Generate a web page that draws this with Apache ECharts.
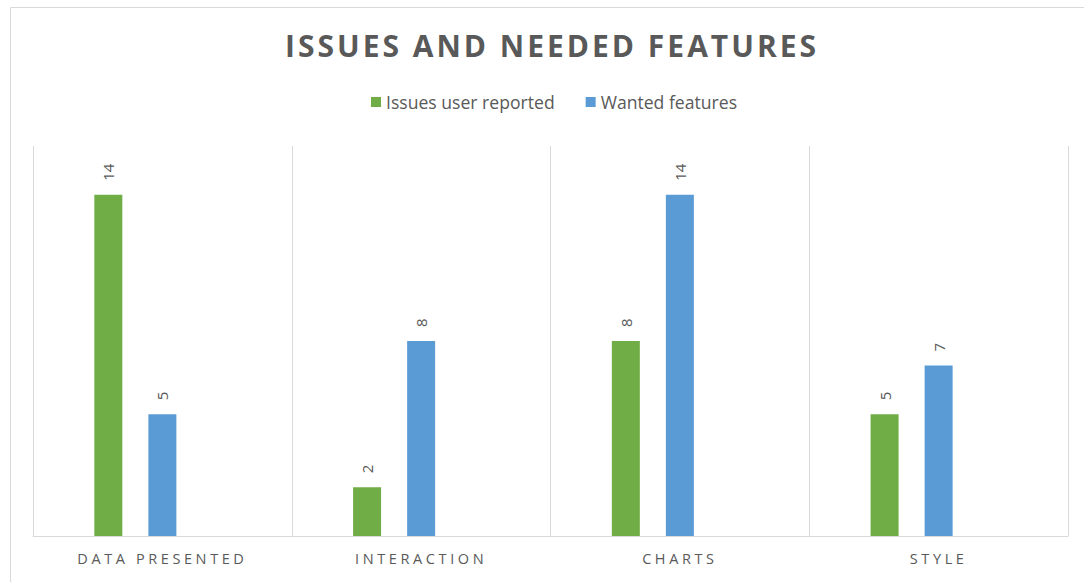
<!DOCTYPE html>
<html>
<head>
<meta charset="utf-8">
<script src="https://cdn.jsdelivr.net/npm/echarts@6/dist/echarts.min.js"></script>
<style>html,body{margin:0;padding:0;background:#fff;}#c{width:1084px;height:582px;}</style>
</head>
<body>
<div id="c"></div>
<script>
const categories = ['DATA PRESENTED', 'INTERACTION', 'CHARTS', 'STYLE'];
const issuesReported = [14, 2, 8, 5];
const wantedFeatures = [5, 8, 14, 7];
const seriesNames = ['Issues user reported', 'Wanted features'];
const titleText = 'ISSUES AND NEEDED FEATURES';

const chart = echarts.init(document.getElementById('c'), null, {renderer: 'svg'});
const labelCfg = {
  show: true, position: 'top', rotate: 90, distance: 14,
  color: '#595959', fontSize: 15, fontFamily: 'Open Sans',
  align: 'left', verticalAlign: 'middle'
};
chart.setOption({
  animation: false,
  backgroundColor: '#fff',
  graphic: [{
    type: 'rect', left: 8, top: 5, silent: true,
    shape: {width: 1100, height: 620},
    style: {fill: 'none', stroke: '#d9d9d9', lineWidth: 1}
  }],
  title: {
    text: titleText, left: 280, top: 25,
    textStyle: {fontFamily: 'Open Sans', fontWeight: 'bold', fontSize: 30, color: '#595959'}
  },
  legend: {
    data: seriesNames, top: 88, left: 366, itemWidth: 10, itemHeight: 10, itemGap: 31,
    icon: 'rect',
    textStyle: {fontFamily: 'Open Sans', fontSize: 17.6, color: '#595959'}
  },
  grid: {left: 33, right: 16, top: 146, bottom: 46, containLabel: false},
  xAxis: {
    type: 'category', data: categories, boundaryGap: true,
    axisLine: {show: true, lineStyle: {color: '#d9d9d9', width: 1}},
    axisTick: {show: false},
    splitLine: {show: true, lineStyle: {color: '#d9d9d9', width: 1}},
    axisLabel: {color: '#595959', fontFamily: 'Open Sans', fontSize: 14.5, margin: 15}
  },
  yAxis: {
    type: 'value', min: 0, max: 16, interval: 2,
    show: false, splitLine: {show: false}
  },
  series: [
    {name: seriesNames[0], type: 'bar', data: issuesReported, barWidth: 28, barGap: '93%',
     itemStyle: {color: '#70ad47'}, label: labelCfg},
    {name: seriesNames[1], type: 'bar', data: wantedFeatures, barWidth: 28,
     itemStyle: {color: '#5b9bd5'}, label: labelCfg},
    {name: 'spacer', type: 'bar', data: [], barWidth: 28}
  ]
});

// Letter spacing for the title and category labels (as in the original)
function applySpacing() {
  const texts = document.querySelectorAll('#c svg text');
  texts.forEach(function (t) {
    const s = t.textContent;
    if (s === titleText) {
      t.style.letterSpacing = '3px';
    } else if (categories.indexOf(s) >= 0) {
      t.style.letterSpacing = '3.6px';
    }
  });
}
applySpacing();
chart.on('finished', applySpacing);
setTimeout(applySpacing, 0);
setTimeout(applySpacing, 100);
</script>
</body>
</html>
